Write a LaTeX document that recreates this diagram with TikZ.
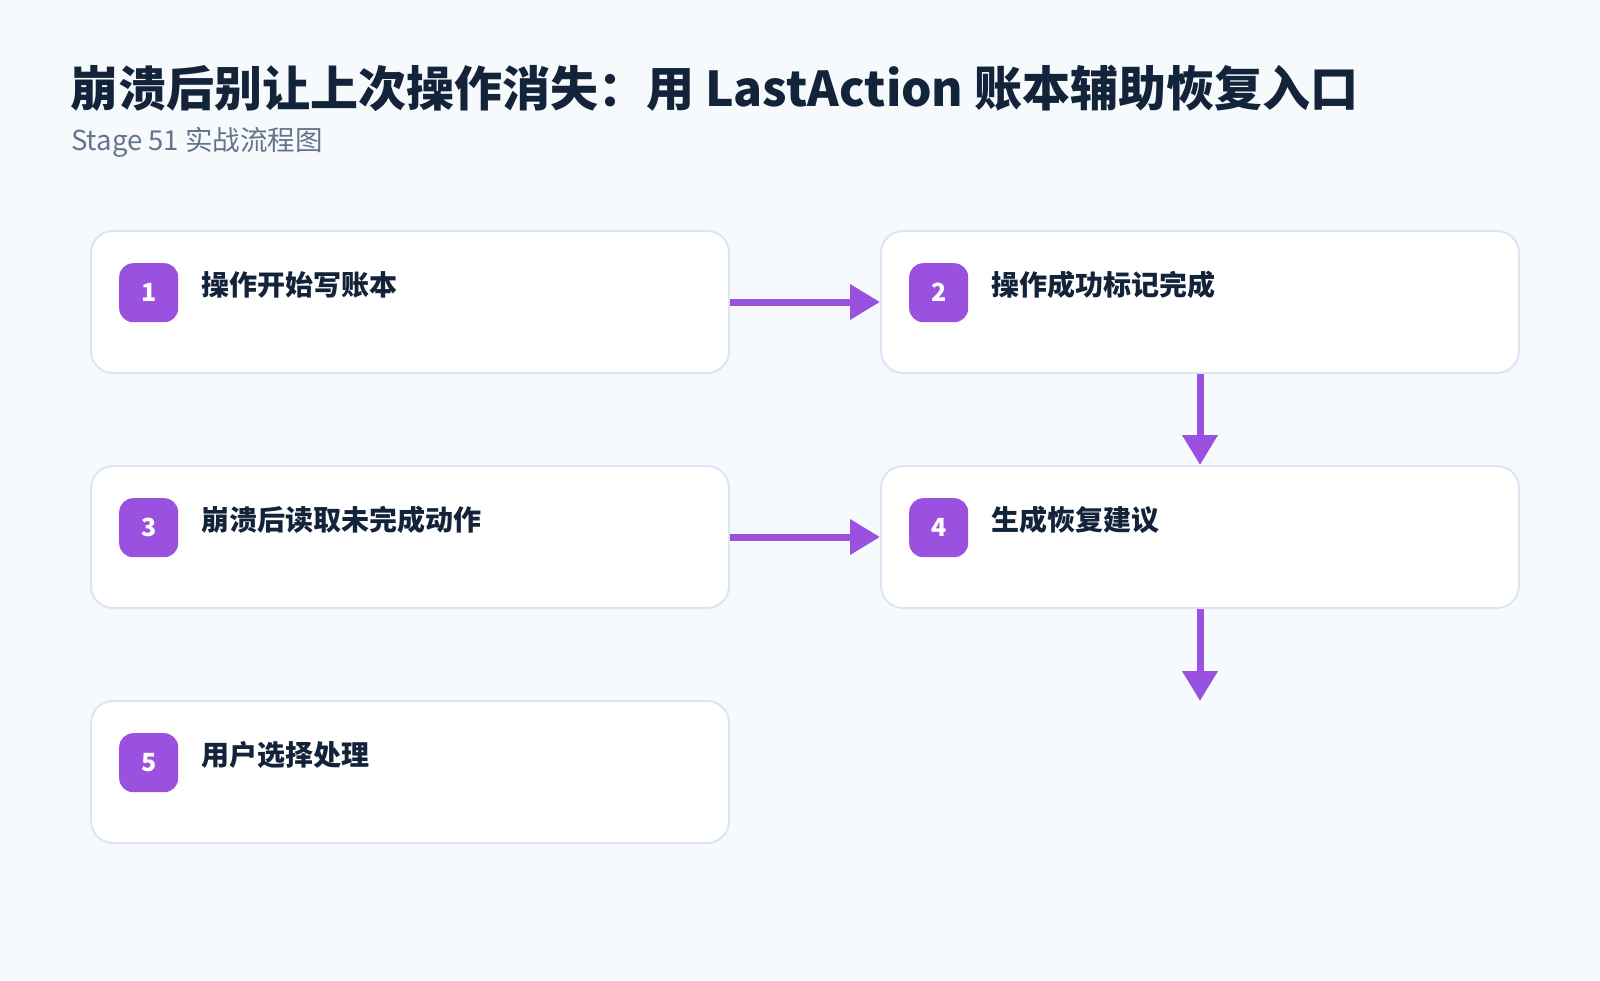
\documentclass[tikz,border=0pt]{standalone}
\usepackage{fontspec}
\setmainfont{Noto Sans CJK SC}
\usetikzlibrary{arrows.meta,positioning}

\definecolor{hintergrund}{HTML}{F7FAFD}
\definecolor{rahmen}{HTML}{DCE6F2}
\definecolor{lila}{HTML}{9B51E0}
\definecolor{dunkel}{HTML}{13233A}
\definecolor{grau}{HTML}{64748B}

\tikzset{
    schritt/.style={draw=rahmen, line width=2pt, fill=white, rounded corners=22pt,
        minimum width=638pt, minimum height=142pt, inner sep=0pt},
    nummer/.style={fill=lila, rounded corners=14pt, minimum size=59pt, inner sep=0pt,
        text=white, font=\bfseries\fontsize{25}{30}\selectfont},
    schrifttext/.style={inner sep=0pt, text=dunkel, font=\bfseries\fontsize{28}{34}\selectfont},
    pfeil/.style={draw=lila, line width=7pt, -{Triangle[length=30pt,width=34pt]}}
}

\begin{document}
\begin{tikzpicture}[x=1pt,y=-1pt]
    % Hintergrund
    \fill[hintergrund] (0,0) rectangle (1600,980);
    \useasboundingbox (0,0) rectangle (1600,980);

    % Titel
    \node[anchor=base west, inner sep=0pt, text=dunkel, font=\bfseries\fontsize{48}{58}\selectfont] (titel) at (70,106)
        {崩溃后别让上次操作消失：用 LastAction 账本辅助恢复入口};
    \node[anchor=base west, inner sep=0pt, text=grau, font=\fontsize{27.5}{33}\selectfont] (untertitel) at (71,150)
        {Stage 51 实战流程图};

    % Schritte
    \foreach \i/\x/\y/\txt in {1/410/302/操作开始写账本, 2/1200/302/操作成功标记完成,
        3/410/537/崩溃后读取未完成动作, 4/1200/537/生成恢复建议, 5/410/772/用户选择处理}
    {
        \node[schritt] (s\i) at (\x,\y) {};
        \node[nummer, anchor=north west] (n\i) at ([xshift=29pt,yshift=-33pt]s\i.north west) {\i};
        \node[schrifttext, anchor=base west] (t\i) at ([xshift=111pt,yshift=7pt]s\i.west) {\txt};
    }

    % Ende
    \coordinate (ende) at (1200,701);

    % Pfeile
    \draw[pfeil] (s1.east) -- (s2.west);
    \draw[pfeil] (s2.south) -- (s4.north);
    \draw[pfeil] (s3.east) -- (s4.west);
    \draw[pfeil] (s4.south) -- (ende);
\end{tikzpicture}
\end{document}
